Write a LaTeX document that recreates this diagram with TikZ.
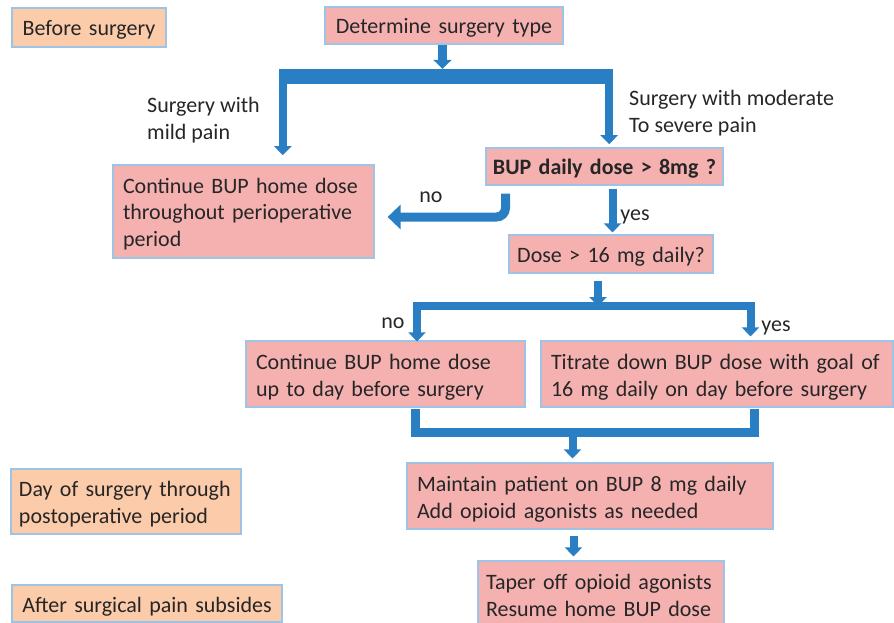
\documentclass[tikz,border=0pt]{standalone}
\usepackage{fontspec}
\setmainfont{Carlito}
\usetikzlibrary{arrows.meta}
\definecolor{flowblue}{HTML}{2A7FC4}
\definecolor{boxpink}{HTML}{F4B1B0}
\definecolor{boxpeach}{HTML}{FBCBAA}
\definecolor{boxline}{HTML}{9DC3E6}
\definecolor{txt}{HTML}{262626}
\tikzset{
    words/.style={text=txt, font=\fontsize{22}{27}\selectfont, execute at begin node={\rule{0pt}{22pt}}, execute at end node={\rule[-5pt]{0pt}{5pt}}},
    box/.style={words, draw=boxline, fill=boxpink, line width=1.2pt, inner xsep=8pt, inner ysep=0pt, align=left},
    phase/.style={box, fill=boxpeach},
    lbl/.style={words, align=left, inner sep=0pt},
    flow/.style={draw=flowblue, line width=8pt, -{Triangle[width=17pt,length=9pt]}},
    bar/.style={draw=flowblue, line width=8pt},
}
\begin{document}
\begin{tikzpicture}[x=1pt, y=-1pt]
    \useasboundingbox (0,0) rectangle (894,623);
    \node[phase, text width=138pt, minimum height=39pt, align=center](before) at (89,27.5) {Before surgery};
    \node[phase, text width=214pt, minimum height=65pt](dayof) at (126,501.5) {Day of surgery through\\postoperative period};
    \node[phase, text width=254pt, minimum height=37pt, align=center](after) at (147,603.5) {After surgical pain subsides};
    \node[box, text width=222pt, minimum height=37pt, align=center](det) at (444,25.5) {Determine surgery type};
    \node[box, inner xsep=0pt, text width=237pt, minimum height=37pt, align=center](bup8) at (604.5,166.5) {\textbf{BUP daily dose > 8mg ?}};
    \node[box, inner xsep=10pt, text width=241pt, minimum height=93pt](contall) at (243.5,211.5) {Continue BUP home dose\\throughout perioperative\\period};
    \node[box, text width=188pt, minimum height=38pt, align=center](dose16) at (611,254) {Dose > 16 mg daily?};
    \node[box, inner xsep=10pt, text width=259pt, minimum height=66pt](contday) at (385.5,374) {Continue BUP home dose\\up to day before surgery};
    \node[box, inner xsep=10pt, text width=332pt, minimum height=66pt](titrate) at (717,374) {Titrate down BUP dose with goal of\\16 mg daily on day before surgery};
    \node[box, inner xsep=10pt, text width=346pt, minimum height=66pt](maintain) at (590,496) {Maintain patient on BUP 8 mg daily\\Add opioid agonists as needed};
    \node[box, text width=230pt, minimum height=66pt](taper) at (601,594) {Taper off opioid agonists\\Resume home BUP dose};

    \node[lbl, anchor=west](mild) at (147,121) {Surgery with\\mild pain};
    \node[lbl, anchor=west](severe) at (629,114) {Surgery with moderate\\To severe pain};
    \node[lbl](no1) at (431,194) {no};
    \node[lbl](yes1) at (635,211.5) {yes};
    \node[lbl](no2) at (393,320) {no};
    \node[lbl](yes2) at (776,323) {yes};

    \node[fill=flowblue, inner sep=0pt, minimum width=334pt, minimum height=15pt](split) at (446,76.5) {};
    \draw[flow, line width=9pt, -{Triangle[width=18pt,length=9pt]}] ([xshift=-1.5pt]det.south) -- ([xshift=-1.5pt]det.south |- split.north);
    \draw[flow] ([xshift=4pt]split.south west) -- ++(0,71);
    \draw[flow] ([xshift=-4pt]split.south east) -- ++(0,60);

    \draw[flow, line width=9pt, rounded corners=9pt, -{Triangle[width=24pt,length=13pt]}] ([xshift=-99pt,yshift=-8pt]bup8.south) |- ([xshift=13pt,yshift=-5.5pt]contall.east);
    \draw[flow] ([xshift=8pt,yshift=-3pt]bup8.south) -- ([xshift=1.5pt,yshift=2pt]dose16.north);

    \coordinate (s1) at (417,306);
    \coordinate (s2) at (750.5,306);
    \draw[flow] ([xshift=-13pt,yshift=-7pt]dose16.south) -- ([xshift=-13pt]dose16.south |- s1);
    \draw[flow, {Triangle[width=17pt,length=9pt]}-{Triangle[width=17pt,length=9pt]}] ([yshift=-1pt]s1 |- contday.north) -- (s1) -- (s2) -- ([yshift=4pt]s2 |- titrate.north);

    \coordinate (m1) at (415.5,432.5);
    \coordinate (m2) at (754,432.5);
    \coordinate (m3) at (572.5,436);
    \draw[bar, line width=9pt] ([yshift=-1pt]m1 |- contday.south) -- (m1) -- (m2) -- ([yshift=-1pt]m2 |- titrate.south);
    \draw[flow, shorten >=4pt] (m3) -- (m3 |- maintain.north);
    \draw[flow, shorten <=6pt, shorten >=4pt] ([xshift=-16.5pt]maintain.south) -- ([xshift=-16.5pt]maintain.south |- taper.north);
\end{tikzpicture}
\end{document}
